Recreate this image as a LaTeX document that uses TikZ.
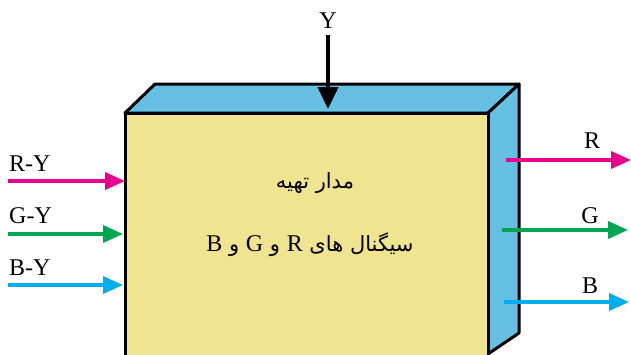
\documentclass[tikz,border=0pt]{standalone}
\usepackage{fontspec}
\setmainfont{Liberation Serif}
\newfontfamily\arabicfont[Script=Arabic]{DejaVu Sans}
\TeXXeTstate=1
\usetikzlibrary{arrows.meta}
\definecolor{boxyellow}{RGB}{240,228,144}
\definecolor{boxblue}{RGB}{102,192,228}
\definecolor{sigmagenta}{RGB}{232,0,140}
\definecolor{siggreen}{RGB}{0,166,80}
\definecolor{sigcyan}{RGB}{0,174,239}
\newcommand{\latsz}{\rmfamily\fontsize{24}{28}\selectfont}
\newcommand{\arbsz}{\arabicfont\fontsize{21}{25}\selectfont}
\tikzset{
  face/.style={draw=black,line width=3pt,line join=round},
  sig/.style={line width=3.5pt,-{Triangle[length=20pt,width=17pt]}},
  lbl/.style={inner sep=0pt,font=\latsz},
  atxt/.style={inner sep=0pt,font=\arbsz}
}
\begin{document}
\begin{tikzpicture}[x=1pt,y=-1pt]
\useasboundingbox (0,0) rectangle (631,354);
\clip (0,0) rectangle (631,354);
% box corners
\coordinate (fl) at (125,113);
\coordinate (fr) at (488,113);
\coordinate (bl) at (155,84);
\coordinate (br) at (519,84);
\coordinate (rb) at (519,333);
\coordinate (frb) at (488,354);
\coordinate (flb) at (125,370);
\coordinate (frbb) at (488,370);
% faces
\draw[face,fill=boxblue] (fl) -- (bl) -- (br) -- (fr) -- cycle;
\draw[face,fill=boxblue] (fr) -- (br) -- (rb) -- (frb) -- (frbb) -- cycle;
\draw[face,fill=boxyellow] (flb) -- (fl) -- (fr) -- (frbb) -- cycle;
% texts
\node[atxt] (t1) at (315,183) {\beginR مدار تهیه\endR};
\node[atxt] (t2) at (310,245) {\beginR سیگنال های {\latsz R} و {\latsz G} و {\latsz B}\endR};
% Y input
\node[lbl] (ylab) at (328,21) {Y};
\coordinate (ys) at (328,35);
\coordinate (ye) at (328,109);
\draw[line width=4pt,-{Triangle[length=22pt,width=20pt]}] (ys) -- (ye);
% left inputs
\node[lbl,anchor=west] (lry) at (9,164) {R-Y};
\node[lbl,anchor=west] (lgy) at (9,216) {G-Y};
\node[lbl,anchor=west] (lby) at (9,268) {B-Y};
\coordinate (ry0) at (8,181);  \coordinate (ry1) at (125,181);
\coordinate (gy0) at (8,234);  \coordinate (gy1) at (123,234);
\coordinate (by0) at (8,285);  \coordinate (by1) at (123,285);
\draw[sig,sigmagenta] (ry0) -- (ry1);
\draw[sig,siggreen] (gy0) -- (gy1);
\draw[sig,sigcyan] (by0) -- (by1);
% right outputs
\node[lbl] (lr) at (592,141) {R};
\node[lbl] (lg) at (590,216) {G};
\node[lbl] (lb) at (590,286) {B};
\coordinate (r0) at (506,160); \coordinate (r1) at (631,160);
\coordinate (g0) at (502,230); \coordinate (g1) at (628,230);
\coordinate (b0) at (504,302); \coordinate (b1) at (629,302);
\draw[sig,sigmagenta] (r0) -- (r1);
\draw[sig,siggreen] (g0) -- (g1);
\draw[sig,sigcyan] (b0) -- (b1);
\end{tikzpicture}
\end{document}
